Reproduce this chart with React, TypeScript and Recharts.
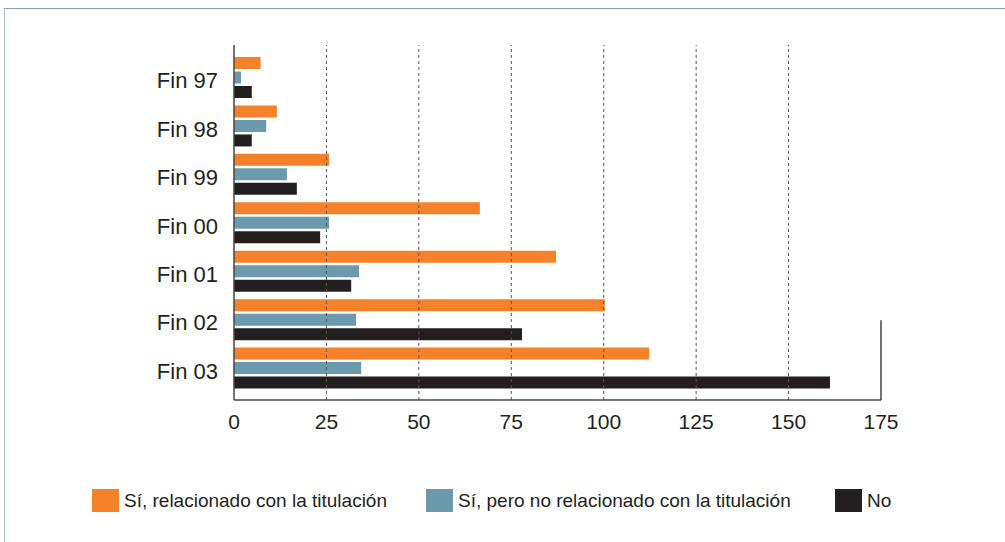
import React from "react";
import {
  BarChart,
  Bar,
  XAxis,
  YAxis,
  ReferenceLine,
} from "recharts";

const categories = ["Fin 97", "Fin 98", "Fin 99", "Fin 00", "Fin 01", "Fin 02", "Fin 03"];
const relacionado = [7.2, 11.6, 25.7, 66.5, 87.1, 100.3, 112.3];
const noRelacionado = [1.9, 8.7, 14.3, 25.7, 33.8, 33, 34.4];
const no = [4.8, 4.8, 17, 23.3, 31.7, 77.9, 161.2];
const xTicks = [0, 25, 50, 75, 100, 125, 150, 175];
const gridValues = [25, 50, 75, 100, 125, 150];

const series = [
  { key: "rel", name: "Sí, relacionado con la titulación", color: "#f5822a" },
  { key: "norel", name: "Sí, pero no relacionado con la titulación", color: "#6b9aad" },
  { key: "no", name: "No", color: "#231f20" },
];

const data = categories.map((name, i) => ({
  name,
  rel: relacionado[i],
  norel: noRelacionado[i],
  no: no[i],
}));

const FONT = "'Liberation Sans', Arial, sans-serif";
const legendLeft = [92, 426, 835];

// right border only covers the lower part of the plot
function PartialRightLine(props: any) {
  const { x1, y1, x2, y2 } = props;
  const yTop = Math.min(y1, y2);
  const yBot = Math.max(y1, y2);
  const top = yTop + (yBot - yTop) * 0.775;
  return <line x1={x1} x2={x2} y1={top} y2={yBot} stroke="#444" strokeWidth={1.5} />;
}

function CategoryTick(props: any) {
  const { x, y, payload } = props;
  return (
    <text x={x} y={y} dy={11} textAnchor="end" fill="#231f20" fontSize={22} fontFamily={FONT}>
      {payload.value}
    </text>
  );
}

export default function App() {
  return (
    <div style={{ position: "absolute", left: 0, top: 0, width: 1005, height: 542, background: "#fff" }}>
      <div
        style={{
          position: "absolute",
          left: 4,
          top: 8,
          right: 0,
          bottom: 0,
          borderTop: "1.5px solid #7ea3b8",
          borderLeft: "1px solid #9fbccb",
        }}
      />
      <div style={{ position: "absolute", left: 0, top: 0 }}>
        <BarChart
          width={1005}
          height={542}
          data={data}
          layout="vertical"
          margin={{ top: 45, right: 124, left: 0, bottom: 112 }}
          barSize={12}
          barGap={2.5}
        >
          <XAxis
            type="number"
            domain={[0, 175]}
            ticks={xTicks}
            height={30}
            tickSize={0}
            tickMargin={14}
            axisLine={{ stroke: "#444", strokeWidth: 1.5 }}
            tick={{ fill: "#231f20", fontSize: 21, fontFamily: FONT }}
          />
          <YAxis
            type="category"
            dataKey="name"
            width={234}
            tickSize={0}
            tickMargin={16}
            padding={{ top: 8, bottom: 8 }}
            axisLine={{ stroke: "#444", strokeWidth: 1.5 }}
            tick={<CategoryTick />}
          />
          {gridValues.map((v) => (
            <ReferenceLine key={v} x={v} stroke="#555" strokeDasharray="3 3" strokeWidth={1} />
          ))}
          <ReferenceLine x={175} shape={PartialRightLine} />
          {series.map((s) => (
            <Bar key={s.key} dataKey={s.key} name={s.name} fill={s.color} isAnimationActive={false} />
          ))}
        </BarChart>
      </div>
      {series.map((s, i) => (
        <div
          key={s.key}
          style={{
            position: "absolute",
            left: legendLeft[i],
            top: 489,
            display: "flex",
            alignItems: "center",
            fontFamily: FONT,
            fontSize: 19,
            color: "#231f20",
            whiteSpace: "nowrap",
          }}
        >
          <span style={{ display: "inline-block", width: 27, height: 23, background: s.color, marginRight: 5 }} />
          {s.name}
        </div>
      ))}
    </div>
  );
}
